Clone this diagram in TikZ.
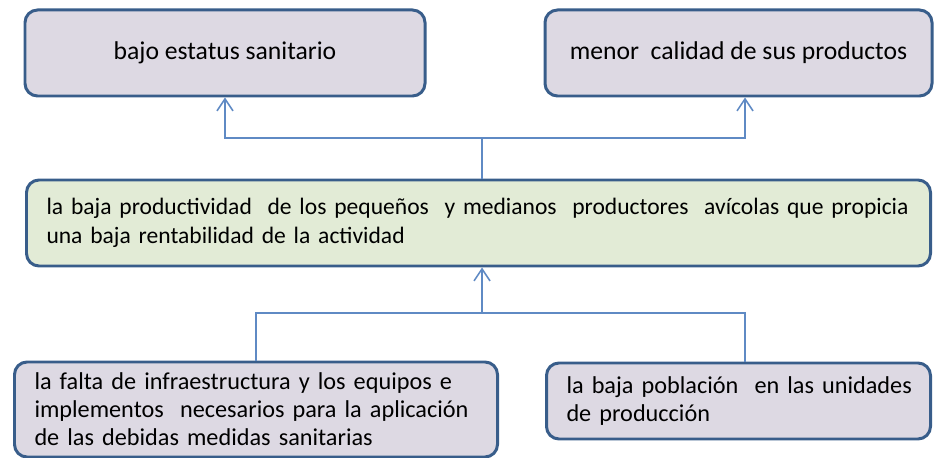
\documentclass[tikz,border=0pt]{standalone}
\usepackage{fontspec}
\setmainfont{Carlito}
\usepackage{tikz}
\usetikzlibrary{arrows.meta, positioning}
\definecolor{boxline}{RGB}{56,93,138}
\definecolor{effectfill}{RGB}{221,217,227}
\definecolor{corefill}{RGB}{226,235,214}
\definecolor{linkblue}{RGB}{95,138,196}
\tikzset{
  effect/.style={rectangle, rounded corners=0.25cm, draw=boxline, line width=1.7pt, fill=effectfill,
                 minimum height=1.72cm, align=center, font=\fontsize{14.6}{17}\selectfont},
  core/.style={rectangle, rounded corners=0.25cm, draw=boxline, line width=1.7pt, fill=corefill,
               minimum height=1.72cm, align=left, inner xsep=0.4cm, font=\fontsize{13.4}{16.3}\selectfont},
  cause/.style={rectangle, rounded corners=0.25cm, draw=boxline, line width=1.7pt, fill=effectfill,
                align=left, inner xsep=0.4cm, font=\fontsize{13.8}{16}\selectfont},
  arr/.style={-{Straight Barb[length=0.24cm,width=0.32cm]}, line width=0.9pt, draw=linkblue},
  conn/.style={line width=0.9pt, draw=linkblue},
}

\begin{document}
\begin{tikzpicture}
\useasboundingbox (0,0) rectangle (18.68,-9.16);
\clip (0,0) rectangle (18.68,-9.16);
\node[effect, minimum width=8.0cm] (estatus) at (4.5,-1.06) {bajo estatus sanitario};
\node[effect, minimum width=7.74cm] (calidad) at (14.77,-1.06) {menor\ \ calidad de sus productos};
\node[core, text width=17.28cm] (prod) at (9.57,-4.46)
  {\mbox{la baja productividad\ \ de los pequeños\ \ y medianos\ \ productores\ \ avícolas que propicia}\\
   \mbox{una baja rentabilidad de la actividad}};
\node[cause, text width=8.86cm, minimum height=1.9cm] (infra) at (5.12,-8.19)
  {\mbox{la falta de infraestructura y los equipos e}\\
   \mbox{implementos\ \ necesarios para la aplicación}\\
   \mbox{de las debidas medidas sanitarias}};
\node[cause, text width=6.88cm, minimum height=1.52cm] (poblacion) at (14.77,-8.02)
  {\mbox{la baja población\ \ en las unidades}\\
   \mbox{de producción}};
% efectos
\coordinate (up) at (9.64,-2.76);
\draw[conn] (prod.north -| up) -- (up);
\draw[arr] (up) -| (estatus.south);
\draw[arr] (up) -| ([xshift=0.13cm]calidad.south);
% causas
\coordinate (down) at (9.64,-6.26);
\draw[conn] (infra.north) |- (down);
\draw[conn] ([xshift=0.13cm]poblacion.north) |- (down);
\draw[arr] (down) -- (down |- prod.south);
\end{tikzpicture}
\end{document}
